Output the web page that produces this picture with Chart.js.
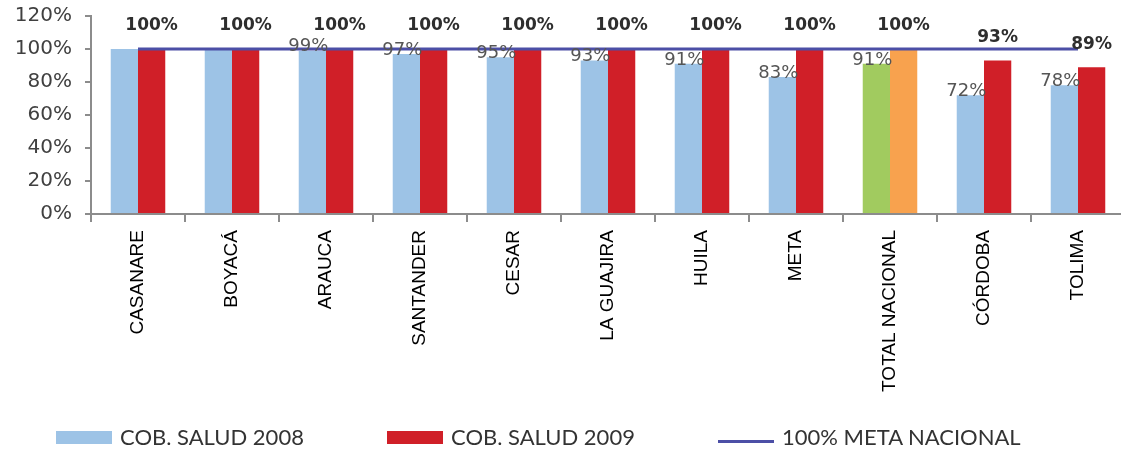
<!DOCTYPE html>
<html>
<head>
<meta charset="utf-8">
<title>Cobertura en salud 2008 - 2009</title>
<script src="https://cdn.jsdelivr.net/npm/chart.js"></script>
<style>
    html, body { margin: 0; padding: 0; background: #ffffff; }
    .chart-wrap { position: relative; width: 1121px; height: 453px; overflow: hidden; }
    .chart-wrap canvas { position: absolute; left: 0; top: 0; }
    .chart-legend {
        position: absolute; left: 56px; top: 426px; height: 24px;
        font-family: Lato, 'Open Sans', sans-serif; font-size: 22px; color: #333333;
        white-space: nowrap;
    }
    .legend-item { display: inline-block; width: 331px; height: 24px; position: relative; vertical-align: top; }
    .legend-swatch { position: absolute; left: 0; width: 56px; }
    .legend-swatch.box { top: 5px; height: 13px; }
    .legend-swatch.line { top: 14px; height: 3px; }
    .legend-text { position: absolute; left: 64px; top: -2px; line-height: 26px; }
</style>
</head>
<body>
<div class="chart-wrap">
    <canvas id="coverage" width="1128" height="453"></canvas>
    <div class="chart-legend"></div>
</div>
<script>
// --------------------------------------------------
//  Data
// --------------------------------------------------
var departamentos = ['CASANARE', 'BOYACÁ', 'ARAUCA', 'SANTANDER', 'CESAR', 'LA GUAJIRA',
    'HUILA', 'META', 'TOTAL NACIONAL', 'CÓRDOBA', 'TOLIMA'];
var cobSalud2008 = [100, 100, 99, 97, 95, 93, 91, 83, 91, 72, 78];
var cobSalud2009 = [100, 100, 100, 100, 100, 100, 100, 100, 100, 93, 89];
var metaNacional = [100, 100, 100, 100, 100, 100, 100, 100, 100, 100, 100];
var yTickValues = [0, 20, 40, 60, 80, 100, 120];

var seriesNames = ['COB. SALUD 2008', 'COB. SALUD 2009', '100% META NACIONAL'];

// Colors
var COLOR_2008 = '#9dc3e6';
var COLOR_2009 = '#d01f28';
var COLOR_TOTAL_2008 = '#a1cb5f';
var COLOR_TOTAL_2009 = '#f8a24e';
var COLOR_META = '#4c4fa6';
var AXIS_GRAY = '#8c8c8c';
var TOTAL_LABEL = 'TOTAL NACIONAL';

// Plot box (canvas px)
var PLOT_TOP = 16;
var PLOT_BOTTOM = 214;
var PLOT_LEFT = 91;

function isTotal(ctx) {
    return departamentos[ctx.dataIndex] === TOTAL_LABEL;
}

// --------------------------------------------------
//  Value labels above the bars
// --------------------------------------------------
var valueLabels = {
    id: 'valueLabels',
    afterDatasetsDraw: function (chart) {
        var c = chart.ctx;
        var meta08 = chart.getDatasetMeta(0);
        var meta09 = chart.getDatasetMeta(1);
        c.save();
        c.textAlign = 'center';
        c.textBaseline = 'middle';

        // 2008: plain gray labels sitting on the bar top
        c.font = '18px "DejaVu Sans", Verdana, sans-serif';
        c.fillStyle = '#555555';
        meta08.data.forEach(function (bar, i) {
            if (cobSalud2008[i] === cobSalud2009[i]) return; // shared label already on 2009 bar
            c.fillText(cobSalud2008[i] + '%', bar.x - 4, bar.y - 4);
        });

        // 2009: bold labels above the bar
        c.font = 'bold 17px "DejaVu Sans", Verdana, sans-serif';
        c.fillStyle = '#2e2e2e';
        meta09.data.forEach(function (bar, i) {
            c.fillText(cobSalud2009[i] + '%', bar.x, bar.y - 23);
        });
        c.restore();
    }
};

// --------------------------------------------------
//  Chart
// --------------------------------------------------
var chart = new Chart(document.getElementById('coverage').getContext('2d'), {
    type: 'bar',
    data: {
        labels: departamentos,
        datasets: [
            {
                label: seriesNames[0],
                data: cobSalud2008,
                backgroundColor: function (ctx) { return isTotal(ctx) ? COLOR_TOTAL_2008 : COLOR_2008; },
                barPercentage: 1,
                categoryPercentage: 0.58,
                order: 1
            },
            {
                label: seriesNames[1],
                data: cobSalud2009,
                backgroundColor: function (ctx) { return isTotal(ctx) ? COLOR_TOTAL_2009 : COLOR_2009; },
                barPercentage: 1,
                categoryPercentage: 0.58,
                order: 1
            },
            {
                type: 'line',
                label: seriesNames[2],
                data: metaNacional,
                borderColor: COLOR_META,
                borderWidth: 3,
                pointRadius: 0,
                fill: false,
                order: 0
            }
        ]
    },
    options: {
        responsive: false,
        animation: false,
        devicePixelRatio: 1,
        layout: { padding: { top: PLOT_TOP, right: 3, left: 0, bottom: 0 } },
        plugins: {
            legend: { display: false },
            tooltip: { enabled: false }
        },
        scales: {
            x: {
                grid: {
                    display: true,
                    offset: true,
                    drawOnChartArea: false,
                    drawTicks: true,
                    tickLength: 8,
                    color: AXIS_GRAY,
                    lineWidth: 2
                },
                border: { display: true, color: AXIS_GRAY, width: 2 },
                ticks: {
                    autoSkip: false,
                    minRotation: 90,
                    maxRotation: 90,
                    padding: 8,
                    color: '#000000',
                    font: { family: '"Liberation Sans", Arial, sans-serif', size: 19 }
                },
                afterFit: function (scale) {
                    scale.height = 453 - PLOT_BOTTOM;
                    scale.paddingTop = 0;
                    scale.paddingBottom = 0;
                }
            },
            y: {
                min: 0,
                max: 120,
                afterBuildTicks: function (scale) {
                    scale.ticks = yTickValues.map(function (v) { return { value: v }; });
                },
                grid: {
                    display: true,
                    drawOnChartArea: false,
                    drawTicks: true,
                    tickLength: 6,
                    color: AXIS_GRAY,
                    lineWidth: 2
                },
                border: { display: true, color: AXIS_GRAY, width: 2 },
                ticks: {
                    padding: 13,
                    color: '#404040',
                    font: { family: '"DejaVu Sans", Verdana, sans-serif', size: 20 },
                    callback: function (value) { return value + '%'; }
                },
                afterFit: function (scale) {
                    scale.width = PLOT_LEFT;
                    scale.paddingTop = 0;
                    scale.paddingBottom = 0;
                }
            }
        }
    },
    plugins: [valueLabels]
});

// --------------------------------------------------
//  Legend (built from the datasets)
// --------------------------------------------------
(function buildLegend() {
    var swatchColors = [COLOR_2008, COLOR_2009, COLOR_META];
    var html = '';
    chart.data.datasets.forEach(function (ds, i) {
        var kind = ds.type === 'line' ? 'line' : 'box';
        html += '<span class="legend-item">' +
            '<span class="legend-swatch ' + kind + '" style="background:' + swatchColors[i] + '"></span>' +
            '<span class="legend-text">' + ds.label + '</span></span>';
    });
    document.querySelector('.chart-legend').innerHTML = html;
})();
</script>
</body>
</html>
